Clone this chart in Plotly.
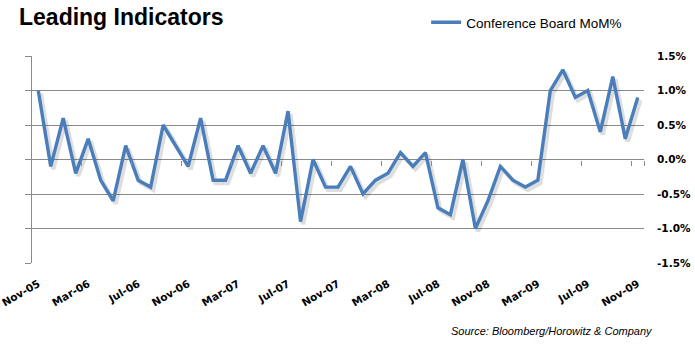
import plotly.graph_objects as go
import pandas as pd

# Data
months = pd.date_range("2005-11-01", periods=49, freq="MS").strftime("%b-%y").tolist()
mom_pct = [1.0, -0.1, 0.6, -0.2, 0.3, -0.3, -0.6, 0.2, -0.3, -0.4, 0.5, 0.2, -0.1,
           0.6, -0.3, -0.3, 0.2, -0.2, 0.2, -0.2, 0.7, -0.9, 0.0, -0.4, -0.4,
           -0.1, -0.5, -0.3, -0.2, 0.1, -0.1, 0.1, -0.7, -0.8, 0.0, -1.0, -0.6,
           -0.1, -0.3, -0.4, -0.3, 1.0, 1.3, 0.9, 1.0, 0.4, 1.2, 0.3, 0.9]
y_ticks = [-1.5, -1.0, -0.5, 0.0, 0.5, 1.0, 1.5]
y_tick_text = ["-1.5%", "-1.0%", "-0.5%", "0.0%", "0.5%", "1.0%", "1.5%"]
label_step = 4

idx = list(range(len(months)))
tick_idx = idx[::label_step]
tick_text = [months[i] for i in tick_idx]
boundary_ticks = [i - 0.5 for i in idx[label_step::label_step]] + [idx[-1] + 0.5]

BLUE = "#4a7ebb"
GRID = "#8a8a8a"
AXFONT = dict(family="DejaVu Sans", size=10.5, color="black", weight="bold")

xr = [-0.5, len(months) - 0.5]
yr = [-1.5, 1.5]
# soft drop-shadow: same series drawn on an overlay axis pair whose range is nudged
sx, sy = 0.2, 0.04
xr_sh = [xr[0] - sx, xr[1] - sx]
yr_sh = [yr[0] + sy, yr[1] + sy]

fig = go.Figure()
# helper invisible traces to activate secondary axes
fig.add_trace(go.Scatter(x=[idx[0]], y=[mom_pct[0]], mode="markers", marker=dict(opacity=0),
                         showlegend=False, hoverinfo="skip", xaxis="x", yaxis="y"))
fig.add_trace(go.Scatter(x=[idx[0]], y=[mom_pct[0]], mode="markers", marker=dict(opacity=0),
                         showlegend=False, hoverinfo="skip", xaxis="x2", yaxis="y"))
fig.add_trace(go.Scatter(x=[idx[0]], y=[mom_pct[0]], mode="markers", marker=dict(opacity=0),
                         showlegend=False, hoverinfo="skip", xaxis="x", yaxis="y2"))
fig.add_trace(go.Scatter(x=idx, y=mom_pct, mode="lines", showlegend=False, hoverinfo="skip",
                         line=dict(color="rgba(0,0,0,0.13)", width=4.5), xaxis="x3", yaxis="y3"))
fig.add_trace(go.Scatter(x=idx, y=mom_pct, mode="lines", name="Conference Board MoM%",
                         line=dict(color=BLUE, width=3.4), xaxis="x4", yaxis="y4"))

hidden = dict(showticklabels=False, showgrid=False, zeroline=False, showline=False,
              ticks="", automargin=False)

fig.update_layout(
    width=695, height=354,
    margin=dict(l=32, r=51, t=56, b=91, autoexpand=False),
    paper_bgcolor="white", plot_bgcolor="white",
    showlegend=True,
    legend=dict(x=0.644, y=1 + (56 - 22.5) / 207, xanchor="left", yanchor="middle",
                orientation="h",
                font=dict(family="Liberation Sans", size=13.5, color="black"),
                bgcolor="rgba(0,0,0,0)", itemwidth=30),
    title=dict(text="<b>Leading Indicators</b>", x=19 / 695, xanchor="left", xref="container",
               y=1 - 9 / 354, yanchor="top", yref="container",
               font=dict(family="Liberation Sans", size=23, color="black")),
    xaxis=dict(range=xr, tickmode="array", tickvals=tick_idx, ticktext=tick_text,
               tickangle=-30, ticks="", showgrid=False, zeroline=False, showline=False,
               tickfont=AXFONT, ticklabelstandoff=12, ticklabeloverflow="allow",
               automargin=False),
    xaxis2=dict(range=xr, overlaying="x", anchor="free", position=0.5, side="bottom",
                tickmode="array", tickvals=boundary_ticks, ticks="outside", ticklen=5,
                tickcolor=GRID, tickwidth=1, showticklabels=False, showgrid=False,
                zeroline=False, showline=False, automargin=False),
    xaxis3=dict(range=xr_sh, overlaying="x", anchor="y3", **hidden),
    xaxis4=dict(range=xr, overlaying="x", anchor="y4", **hidden),
    yaxis=dict(range=yr, side="right", tickmode="array", tickvals=y_ticks,
               ticktext=y_tick_text, showgrid=True, gridcolor=GRID, gridwidth=1,
               zeroline=False, showline=False, ticks="", tickfont=AXFONT,
               ticklabelstandoff=12, ticklabeloverflow="allow", automargin=False),
    yaxis2=dict(range=yr, overlaying="y", side="left", tickmode="array", tickvals=y_ticks,
                ticks="outside", ticklen=6, tickcolor=GRID, showticklabels=False,
                showgrid=False, zeroline=False, showline=True, linecolor=GRID, linewidth=1,
                automargin=False),
    yaxis3=dict(range=yr_sh, overlaying="y", anchor="x3", **hidden),
    yaxis4=dict(range=yr, overlaying="y", anchor="x4", **hidden),
    annotations=[dict(text="<i>Source: Bloomberg/Horowitz & Company</i>", xref="paper", yref="paper",
                      x=(655 - 32) / 612, xanchor="right", y=-(331 - 263) / 207, yanchor="middle",
                      showarrow=False,
                      font=dict(family="Liberation Sans", size=11, color="black"))],
)

fig.write_html("out.html")
